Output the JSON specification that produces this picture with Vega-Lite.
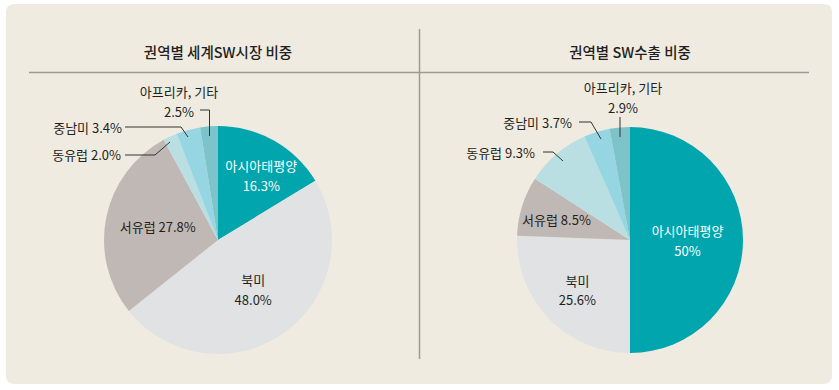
{
  "$schema": "https://vega.github.io/schema/vega-lite/v6.json",
  "width": 839,
  "height": 390,
  "autosize": {"type": "fit", "contains": "padding"},
  "padding": 0,
  "background": "white",
  "config": {"view": {"stroke": null}, "text": {"font": "Noto Sans CJK KR"}},
  "data": {"values": [
    {"panel": "L", "region": "아시아태평양", "value": 16.3, "order": 1, "label": "아시아태평양\n16.3%"},
    {"panel": "L", "region": "북미", "value": 48.0, "order": 2, "label": "북미\n48.0%"},
    {"panel": "L", "region": "서유럽", "value": 27.8, "order": 3, "label": "서유럽 27.8%"},
    {"panel": "L", "region": "동유럽", "value": 2.0, "order": 4, "label": "동유럽 2.0%"},
    {"panel": "L", "region": "중남미", "value": 3.4, "order": 5, "label": "중남미 3.4%"},
    {"panel": "L", "region": "아프리카, 기타", "value": 2.5, "order": 6, "label": "아프리카, 기타\n2.5%"},
    {"panel": "R", "region": "아시아태평양", "value": 50, "order": 1, "label": "아시아태평양\n50%"},
    {"panel": "R", "region": "북미", "value": 25.6, "order": 2, "label": "북미\n25.6%"},
    {"panel": "R", "region": "서유럽", "value": 8.5, "order": 3, "label": "서유럽 8.5%"},
    {"panel": "R", "region": "동유럽", "value": 9.3, "order": 4, "label": "동유럽 9.3%"},
    {"panel": "R", "region": "중남미", "value": 3.7, "order": 5, "label": "중남미 3.7%"},
    {"panel": "R", "region": "아프리카, 기타", "value": 2.9, "order": 6, "label": "아프리카, 기타\n2.9%"}
  ]},
  "layer": [
    {"data": {"values": [{}]}, "mark": {"type": "rect", "fill": "#f0ebe1", "cornerRadius": 8},
     "encoding": {
       "x": {"datum": 6, "type": "quantitative", "scale": {"domain": [0, 839], "nice": false, "zero": false}, "axis": null},
       "x2": {"datum": 832},
       "y": {"datum": 4, "type": "quantitative", "scale": {"domain": [0, 390], "reverse": true, "nice": false, "zero": false}, "axis": null},
       "y2": {"datum": 384}}},
    {"data": {"values": [{}]}, "mark": {"type": "rule", "color": "#9c9a96", "strokeWidth": 1.5},
     "encoding": {"x": {"datum": 29, "type": "quantitative"}, "x2": {"datum": 809}, "y": {"datum": 72.5, "type": "quantitative"}, "y2": {"datum": 72.5}}},
    {"data": {"values": [{}]}, "mark": {"type": "rule", "color": "#9c9a96", "strokeWidth": 1.5},
     "encoding": {"x": {"datum": 419.5, "type": "quantitative"}, "x2": {"datum": 419.5}, "y": {"datum": 29, "type": "quantitative"}, "y2": {"datum": 359}}},
    {"data": {"values": [{}]}, "mark": {"type": "text", "fontSize": 14.5, "fontWeight": 500, "color": "#231f20", "baseline": "middle"},
     "encoding": {"x": {"datum": 218, "type": "quantitative"}, "y": {"datum": 54, "type": "quantitative"}, "text": {"value": "권역별 세계SW시장 비중"}}},
    {"data": {"values": [{}]}, "mark": {"type": "text", "fontSize": 14.5, "fontWeight": 500, "color": "#231f20", "baseline": "middle"},
     "encoding": {"x": {"datum": 630, "type": "quantitative"}, "y": {"datum": 54, "type": "quantitative"}, "text": {"value": "권역별 SW수출 비중"}}},
    {"transform": [{"filter": "datum.panel === 'L'"}],
     "mark": {"type": "arc", "outerRadius": 114},
     "encoding": {
       "x": {"datum": 218, "type": "quantitative"}, "y": {"datum": 240, "type": "quantitative"},
       "theta": {"field": "value", "type": "quantitative", "stack": true, "scale": {"domain": [0, 100]}},
       "order": {"field": "order", "type": "quantitative"},
       "color": {"field": "region", "type": "nominal", "legend": null,
         "scale": {"domain": ["아시아태평양", "북미", "서유럽", "동유럽", "중남미", "아프리카, 기타"],
                   "range": ["#00a5ae", "#e1e2e4", "#c0b8b5", "#b9dfe3", "#95d6e2", "#7cc4c9"]}}}},
    {"transform": [{"filter": "datum.panel === 'R'"}],
     "mark": {"type": "arc", "outerRadius": 113},
     "encoding": {
       "x": {"datum": 630, "type": "quantitative"}, "y": {"datum": 240, "type": "quantitative"},
       "theta": {"field": "value", "type": "quantitative", "stack": true, "scale": {"domain": [0, 100]}},
       "order": {"field": "order", "type": "quantitative"},
       "color": {"field": "region", "type": "nominal", "legend": null}}},
    {"transform": [{"filter": "datum.panel === 'L'"}],
     "mark": {"type": "text", "radius": 76, "dx": 6, "dy": -7, "fontSize": 13, "lineBreak": "\n", "lineHeight": 20, "color": "white", "baseline": "middle"},
     "encoding": {
       "x": {"datum": 218, "type": "quantitative"}, "y": {"datum": 240, "type": "quantitative"},
       "theta": {"field": "value", "type": "quantitative", "stack": true},
       "order": {"field": "order", "type": "quantitative"},
       "text": {"condition": {"test": "datum.region === '아시아태평양'", "field": "label"}, "value": ""}}},
    {"transform": [{"filter": "datum.panel === 'L'"}],
     "mark": {"type": "text", "radius": 61.5, "dy": -9, "fontSize": 13, "lineBreak": "\n", "lineHeight": 19.5, "color": "#231f20", "baseline": "middle"},
     "encoding": {
       "x": {"datum": 218, "type": "quantitative"}, "y": {"datum": 240, "type": "quantitative"},
       "theta": {"field": "value", "type": "quantitative", "stack": true},
       "order": {"field": "order", "type": "quantitative"},
       "text": {"condition": {"test": "datum.region === '북미'", "field": "label"}, "value": ""}}},
    {"transform": [{"filter": "datum.panel === 'L'"}],
     "mark": {"type": "text", "radius": 61.5, "fontSize": 13, "color": "#231f20", "baseline": "middle"},
     "encoding": {
       "x": {"datum": 218, "type": "quantitative"}, "y": {"datum": 240, "type": "quantitative"},
       "theta": {"field": "value", "type": "quantitative", "stack": true},
       "order": {"field": "order", "type": "quantitative"},
       "text": {"condition": {"test": "datum.region === '서유럽'", "field": "label"}, "value": ""}}},
    {"transform": [{"filter": "datum.panel === 'R'"}],
     "mark": {"type": "text", "radius": 57.5, "dy": -8, "fontSize": 13, "lineBreak": "\n", "lineHeight": 20, "color": "white", "baseline": "middle"},
     "encoding": {
       "x": {"datum": 630, "type": "quantitative"}, "y": {"datum": 240, "type": "quantitative"},
       "theta": {"field": "value", "type": "quantitative", "stack": true},
       "order": {"field": "order", "type": "quantitative"},
       "text": {"condition": {"test": "datum.region === '아시아태평양'", "field": "label"}, "value": ""}}},
    {"transform": [{"filter": "datum.panel === 'R'"}],
     "mark": {"type": "text", "radius": 73, "dy": -9, "fontSize": 13, "lineBreak": "\n", "lineHeight": 19.5, "color": "#231f20", "baseline": "middle"},
     "encoding": {
       "x": {"datum": 630, "type": "quantitative"}, "y": {"datum": 240, "type": "quantitative"},
       "theta": {"field": "value", "type": "quantitative", "stack": true},
       "order": {"field": "order", "type": "quantitative"},
       "text": {"condition": {"test": "datum.region === '북미'", "field": "label"}, "value": ""}}},
    {"transform": [{"filter": "datum.panel === 'R'"}],
     "mark": {"type": "text", "radius": 75, "dx": -2, "dy": 4, "fontSize": 13, "color": "#231f20", "baseline": "middle"},
     "encoding": {
       "x": {"datum": 630, "type": "quantitative"}, "y": {"datum": 240, "type": "quantitative"},
       "theta": {"field": "value", "type": "quantitative", "stack": true},
       "order": {"field": "order", "type": "quantitative"},
       "text": {"condition": {"test": "datum.region === '서유럽'", "field": "label"}, "value": ""}}},
    {"transform": [{"filter": "datum.panel === 'L' && datum.region === '아프리카, 기타'"}],
     "mark": {"type": "text", "fontSize": 13, "lineBreak": "\n", "lineHeight": 20, "color": "#231f20", "baseline": "middle", "align": "center"},
     "encoding": {"x": {"datum": 179, "type": "quantitative"}, "y": {"datum": 92.5, "type": "quantitative"}, "text": {"field": "label"}}},
    {"transform": [{"filter": "datum.panel === 'L' && datum.region === '중남미'"}],
     "mark": {"type": "text", "fontSize": 13, "color": "#231f20", "baseline": "middle", "align": "right"},
     "encoding": {"x": {"datum": 122, "type": "quantitative"}, "y": {"datum": 129, "type": "quantitative"}, "text": {"field": "label"}}},
    {"transform": [{"filter": "datum.panel === 'L' && datum.region === '동유럽'"}],
     "mark": {"type": "text", "fontSize": 13, "color": "#231f20", "baseline": "middle", "align": "right"},
     "encoding": {"x": {"datum": 121, "type": "quantitative"}, "y": {"datum": 156, "type": "quantitative"}, "text": {"field": "label"}}},
    {"transform": [{"filter": "datum.panel === 'R' && datum.region === '아프리카, 기타'"}],
     "mark": {"type": "text", "fontSize": 13, "lineBreak": "\n", "lineHeight": 20, "color": "#231f20", "baseline": "middle", "align": "center"},
     "encoding": {"x": {"datum": 623, "type": "quantitative"}, "y": {"datum": 88.5, "type": "quantitative"}, "text": {"field": "label"}}},
    {"transform": [{"filter": "datum.panel === 'R' && datum.region === '중남미'"}],
     "mark": {"type": "text", "fontSize": 13, "color": "#231f20", "baseline": "middle", "align": "right"},
     "encoding": {"x": {"datum": 572, "type": "quantitative"}, "y": {"datum": 124, "type": "quantitative"}, "text": {"field": "label"}}},
    {"transform": [{"filter": "datum.panel === 'R' && datum.region === '동유럽'"}],
     "mark": {"type": "text", "fontSize": 13, "color": "#231f20", "baseline": "middle", "align": "right"},
     "encoding": {"x": {"datum": 535, "type": "quantitative"}, "y": {"datum": 154, "type": "quantitative"}, "text": {"field": "label"}}},
    {"data": {"values": [{}]}, "mark": {"type": "rule", "color": "#333333", "strokeWidth": 1},
     "encoding": {"x": {"datum": 200, "type": "quantitative"}, "x2": {"datum": 209.5}, "y": {"datum": 110, "type": "quantitative"}, "y2": {"datum": 110}}},
    {"data": {"values": [{}]}, "mark": {"type": "rule", "color": "#333333", "strokeWidth": 1},
     "encoding": {"x": {"datum": 209.5, "type": "quantitative"}, "x2": {"datum": 209.5}, "y": {"datum": 110, "type": "quantitative"}, "y2": {"datum": 136}}},
    {"data": {"values": [{}]}, "mark": {"type": "rule", "color": "#333333", "strokeWidth": 1},
     "encoding": {"x": {"datum": 125, "type": "quantitative"}, "x2": {"datum": 181}, "y": {"datum": 127, "type": "quantitative"}, "y2": {"datum": 127}}},
    {"data": {"values": [{}]}, "mark": {"type": "rule", "color": "#333333", "strokeWidth": 1},
     "encoding": {"x": {"datum": 181, "type": "quantitative"}, "x2": {"datum": 188}, "y": {"datum": 127, "type": "quantitative"}, "y2": {"datum": 137}}},
    {"data": {"values": [{}]}, "mark": {"type": "rule", "color": "#333333", "strokeWidth": 1},
     "encoding": {"x": {"datum": 125, "type": "quantitative"}, "x2": {"datum": 155}, "y": {"datum": 155, "type": "quantitative"}, "y2": {"datum": 155}}},
    {"data": {"values": [{}]}, "mark": {"type": "rule", "color": "#333333", "strokeWidth": 1},
     "encoding": {"x": {"datum": 155, "type": "quantitative"}, "x2": {"datum": 170}, "y": {"datum": 155, "type": "quantitative"}, "y2": {"datum": 142}}},
    {"data": {"values": [{}]}, "mark": {"type": "rule", "color": "#333333", "strokeWidth": 1},
     "encoding": {"x": {"datum": 620, "type": "quantitative"}, "x2": {"datum": 620}, "y": {"datum": 117, "type": "quantitative"}, "y2": {"datum": 137}}},
    {"data": {"values": [{}]}, "mark": {"type": "rule", "color": "#333333", "strokeWidth": 1},
     "encoding": {"x": {"datum": 579, "type": "quantitative"}, "x2": {"datum": 591}, "y": {"datum": 122, "type": "quantitative"}, "y2": {"datum": 122}}},
    {"data": {"values": [{}]}, "mark": {"type": "rule", "color": "#333333", "strokeWidth": 1},
     "encoding": {"x": {"datum": 591, "type": "quantitative"}, "x2": {"datum": 601}, "y": {"datum": 122, "type": "quantitative"}, "y2": {"datum": 139}}},
    {"data": {"values": [{}]}, "mark": {"type": "rule", "color": "#333333", "strokeWidth": 1},
     "encoding": {"x": {"datum": 543, "type": "quantitative"}, "x2": {"datum": 553}, "y": {"datum": 152, "type": "quantitative"}, "y2": {"datum": 152}}},
    {"data": {"values": [{}]}, "mark": {"type": "rule", "color": "#333333", "strokeWidth": 1},
     "encoding": {"x": {"datum": 553, "type": "quantitative"}, "x2": {"datum": 563}, "y": {"datum": 152, "type": "quantitative"}, "y2": {"datum": 161}}}
  ]
}
